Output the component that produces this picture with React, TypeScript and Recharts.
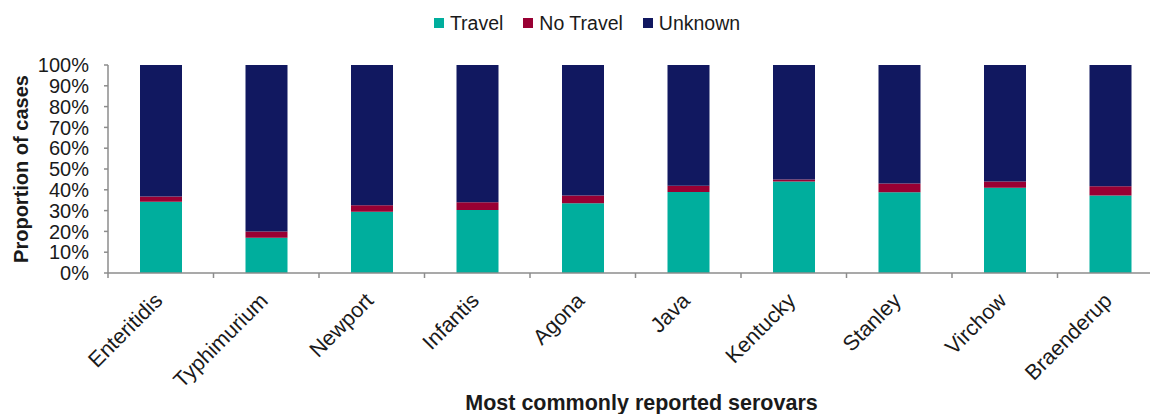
import React from 'react';
import { BarChart, Bar, XAxis, YAxis, Legend } from 'recharts';

const categories = ['Enteritidis', 'Typhimurium', 'Newport', 'Infantis', 'Agona', 'Java', 'Kentucky', 'Stanley', 'Virchow', 'Braenderup'];
const travel = [34.3, 17.0, 29.4, 30.3, 33.5, 38.9, 44.0, 38.8, 41.0, 37.3];
const noTravel = [2.5, 2.9, 3.2, 3.7, 3.8, 3.1, 0.9, 4.2, 3.0, 4.4];
const unknown = [63.2, 80.1, 67.4, 66.0, 62.7, 58.0, 55.1, 57.0, 56.0, 58.3];
const yTicks = [0, 10, 20, 30, 40, 50, 60, 70, 80, 90, 100];

const seriesNames = ['Travel', 'No Travel', 'Unknown'];
const seriesColors = ['#00AE9D', '#990033', '#111860'];

const data = categories.map((c, i) => ({
  name: c,
  travel: travel[i],
  noTravel: noTravel[i],
  unknown: unknown[i],
}));

const FONT = '"Liberation Sans", Arial, sans-serif';
const AXIS = '#8c8c8c';
const TEXT = '#1a1a1a';

const CHART_W = 1170;
const CHART_H = 414;
const MARGIN = { top: 35, right: 7, left: 0, bottom: 0 };
const YAXIS_W = 108;
const BAND = (CHART_W - MARGIN.right - YAXIS_W) / categories.length;

const XTick = (props: any) => {
  const { x, y, payload, index } = props;
  const left = x - BAND / 2;
  const ax = x + 3;
  const ay = y + 29;
  return (
    <g>
      <line x1={left} y1={y} x2={left} y2={y + 5} stroke={AXIS} strokeWidth={1.5} />
      {index === categories.length - 1 && (
        <line x1={x + BAND / 2} y1={y} x2={x + BAND / 2} y2={y + 5} stroke={AXIS} strokeWidth={1.5} />
      )}
      <text
        x={ax}
        y={ay}
        transform={`rotate(-45, ${ax}, ${ay})`}
        textAnchor="end"
        fontFamily={FONT}
        fontSize={21.5}
        fill={TEXT}
      >
        {payload.value}
      </text>
    </g>
  );
};

const LegendContent = () => (
  <div style={{ display: 'flex', justifyContent: 'center', alignItems: 'center', height: 30, fontFamily: FONT, fontSize: 19.5, color: TEXT }}>
    {seriesNames.map((n, i) => (
      <div key={n} style={{ display: 'flex', alignItems: 'center', marginLeft: i === 0 ? 0 : 20 }}>
        <span style={{ display: 'inline-block', width: 10, height: 10, background: seriesColors[i], marginRight: 6 }} />
        <span>{n}</span>
      </div>
    ))}
  </div>
);

export default function App() {
  return (
    <div style={{ position: 'absolute', left: 0, top: 0, width: 1150, height: 414, overflow: 'hidden', background: '#fff' }}>
      <BarChart width={CHART_W} height={CHART_H} data={data} margin={MARGIN} barSize={42}>
        <Legend
          verticalAlign="top"
          content={<LegendContent />}
          wrapperStyle={{ top: 8, left: 2, width: CHART_W }}
        />
        <XAxis
          dataKey="name"
          interval={0}
          height={141}
          tickLine={false}
          tickSize={0}
          tickMargin={0}
          tick={<XTick />}
          axisLine={{ stroke: AXIS, strokeWidth: 1.5 }}
          label={{
            content: (p: any) => {
              const vb = p.viewBox;
              return (
                <text x={vb.x + vb.width / 2 + 6} y={410} textAnchor="middle" fontFamily={FONT} fontWeight="bold" fontSize={21.5} fill={TEXT}>
                  Most commonly reported serovars
                </text>
              );
            },
          }}
        />
        <YAxis
          width={YAXIS_W}
          domain={[0, 100]}
          ticks={yTicks}
          interval={0}
          tickFormatter={(v: number) => `${v}%`}
          tickSize={4}
          tickMargin={15}
          tick={{ fontFamily: FONT, fontSize: 20, fill: TEXT }}
          tickLine={{ stroke: AXIS, strokeWidth: 1.5 }}
          axisLine={{ stroke: AXIS, strokeWidth: 1.5 }}
          label={{
            content: (p: any) => {
              const vb = p.viewBox;
              const cy = vb.y + vb.height / 2;
              return (
                <text x={21} y={cy} transform={`rotate(-90, 21, ${cy})`} textAnchor="middle" dominantBaseline="central" fontFamily={FONT} fontWeight="bold" fontSize={20} fill={TEXT}>
                  Proportion of cases
                </text>
              );
            },
          }}
        />
        <Bar dataKey="travel" name={seriesNames[0]} stackId="a" fill={seriesColors[0]} isAnimationActive={false} />
        <Bar dataKey="noTravel" name={seriesNames[1]} stackId="a" fill={seriesColors[1]} isAnimationActive={false} />
        <Bar dataKey="unknown" name={seriesNames[2]} stackId="a" fill={seriesColors[2]} isAnimationActive={false} />
      </BarChart>
    </div>
  );
}
